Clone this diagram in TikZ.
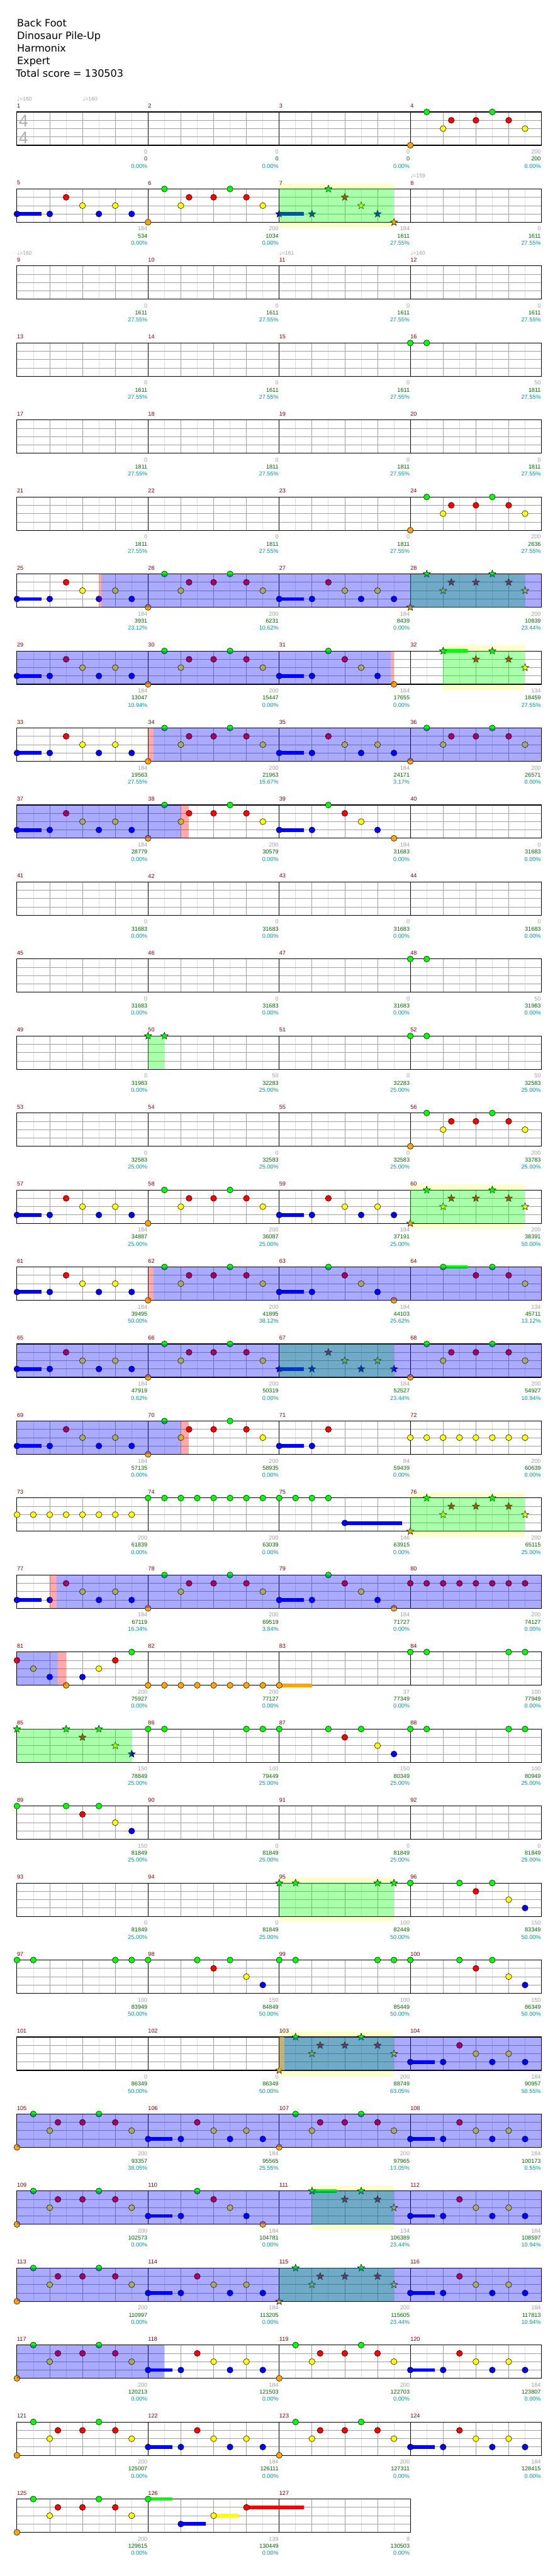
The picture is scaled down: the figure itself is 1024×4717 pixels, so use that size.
\documentclass[tikz,border=0pt]{standalone}
\usepackage{fontspec}
\setmainfont{DejaVu Sans}
\newfontfamily\chartfont{Liberation Sans}
\usepackage{tikz}
\usetikzlibrary{shapes.geometric}
\definecolor{cG}{RGB}{0,255,0}
\definecolor{cR}{RGB}{255,0,0}
\definecolor{cY}{RGB}{255,255,0}
\definecolor{cB}{RGB}{0,0,255}
\definecolor{cO}{RGB}{255,165,0}
\definecolor{gridgrey}{RGB}{160,160,160}
\definecolor{gridlight}{RGB}{222,222,222}
\definecolor{measred}{RGB}{128,0,0}
\definecolor{scoregreen}{RGB}{0,100,0}
\definecolor{pctteal}{RGB}{0,150,150}
\definecolor{glowyellow}{RGB}{255,255,204}
\definecolor{tanbar}{RGB}{200,160,100}
\tikzset{
    notehead/.style={draw=black, line width=0.6pt},
    starnote/.style={star, star points=5, star point ratio=2.3,
        minimum size=14pt, inner sep=0pt, draw=black, line width=0.6pt},
    gridhalf/.style={draw=gridlight, line width=1pt},
    gridbeat/.style={draw=gridgrey, line width=1pt},
    % translucent overlays (star power, overdrive, activation)
    spzone/.style={fill=cG, fill opacity=0.333},
    odzone/.style={fill=cB, fill opacity=0.333},
    pinkzone/.style={fill=cR, fill opacity=0.333},
    measnum/.style={anchor=west, inner sep=0pt, text=measred,
        font=\chartfont\fontsize{10.5}{12}\selectfont},
    bonustxt/.style={anchor=east, inner sep=0pt, text=gridgrey,
        font=\chartfont\fontsize{10.5}{12}\selectfont},
    scoretxt/.style={bonustxt, text=scoregreen},
    pcttxt/.style={bonustxt, text=pctteal},
    tempotxt/.style={anchor=west, inner sep=0pt, text=gridgrey,
        font=\chartfont\fontsize{10}{12}\selectfont},
    titletxt/.style={anchor=base west, inner sep=0pt,
        font=\fontsize{18.5}{22}\selectfont},
    timesig/.style={inner sep=0pt, text=gridgrey!85,
        font=\chartfont\fontsize{31}{32}\selectfont}
}
% one note: 16th position, lane (0 = green ... 4 = orange), colour
\newcommand\nhead[3]{\filldraw[notehead, fill=#3] (15*#1,15.25*#2) circle (5.5);}
\newcommand\shead[3]{\node[starnote, fill=#3] at (15*#1,15.25*#2) {};}
\newcommand\tail[4]{\fill[#4] (15*#1,15.25*#2-3.3) rectangle (15*#1+15*#3,15.25*#2+3.3);}
% recurring bars
\newcommand\riffI[1]{#1{0}{4}{cO}#1{2}{0}{cG}#1{4}{2}{cY}#1{5}{1}{cR}#1{8}{1}{cR}#1{10}{0}{cG}#1{12}{1}{cR}#1{14}{2}{cY}}
\newcommand\riffV[1]{\tail{0}{3}{3}{cB}#1{0}{3}{cB}#1{4}{3}{cB}#1{6}{1}{cR}#1{8}{2}{cY}#1{10}{3}{cB}#1{12}{2}{cY}#1{14}{3}{cB}}
\newcommand\riffD[1]{\tail{0}{3}{3}{cB}#1{0}{3}{cB}#1{4}{3}{cB}#1{6}{0}{cG}#1{8}{1}{cR}#1{10}{2}{cY}#1{12}{3}{cB}#1{14}{4}{cO}}
\newcommand\riffE[1]{\tail{4}{0}{3}{cG}#1{4}{0}{cG}#1{8}{1}{cR}#1{10}{0}{cG}#1{12}{1}{cR}#1{14}{2}{cY}}
\newcommand\riffF[1]{#1{0}{0}{cG}#1{6}{0}{cG}#1{8}{1}{cR}#1{10}{0}{cG}#1{12}{2}{cY}#1{14}{3}{cB}}
\newcommand\riffH[1]{#1{0}{0}{cG}#1{2}{0}{cG}#1{12}{0}{cG}#1{14}{0}{cG}}
\newcommand\riffGG[1]{#1{0}{0}{cG}#1{2}{0}{cG}}
\newcommand\riffrow[2]{\foreach \k in {0,2,...,14}{\nhead{\k}{#1}{#2}}}
% draw inside measure n
\newcommand\atm[2]{%
  \pgfmathtruncatemacro\mrow{(#1-1)/4}%
  \pgfmathtruncatemacro\mcol{#1-1-4*\mrow}%
  \begin{scope}[shift={(31+240*\mcol,205+141*\mrow)}]#2\end{scope}}
\newcommand\staffgrid[2]{%
  \pgfmathtruncatemacro\gridend{240*#2}%
  \begin{scope}[shift={(31,205+141*#1)}]
    \fill[white] (0,0) rectangle (\gridend,61);
    \foreach \x in {30,90,...,\gridend} \draw[gridhalf] (\x,0) -- (\x,61);
    \foreach \l in {1,2,3} \draw[gridbeat] (0,15.25*\l) -- (\gridend,15.25*\l);
    \foreach \x in {60,120,...,\gridend} \draw[gridbeat] (\x,0) -- (\x,61);
    \foreach \x in {240,480,...,\gridend} \draw[black, line width=1pt] (\x,0) -- (\x,61);
    \draw[black, line width=1.3pt] (0,0) rectangle (\gridend,61);
  \end{scope}}
\newcommand\glow[3]{\fill[glowyellow] (#2,195+141*#1) rectangle (#3,276+141*#1);}
\newcommand\zone[4]{\fill[#1] (#3,205+141*#2) rectangle (#4,266+141*#2);}
\newcommand\tempo[3]{\node[tempotxt] (t#1#2) at (#2,181+141*#1) {{\rmfamily\char"2669}=#3};}
\newcommand\scorelbl[4]{%
  \pgfmathtruncatemacro\mrow{(#1-1)/4}%
  \pgfmathtruncatemacro\mcol{#1-4*\mrow}%
  \node[bonustxt] (b#1) at (30+240*\mcol,278+141*\mrow) {#2};
  \node[scoretxt] (s#1) at (30+240*\mcol,291+141*\mrow) {#3};
  \node[pcttxt] (p#1) at (30+240*\mcol,304+141*\mrow) {#4\%};}

\begin{document}
\begin{tikzpicture}[x=1pt, y=-1pt]
\useasboundingbox (0,0) rectangle (1024,4717);
\fill[white] (0,0) rectangle (1024,4717);
% header
\node[titletxt] (song) at (31,49) {Back Foot};
\node[titletxt] (band) at (31,72) {Dinosaur Pile-Up};
\node[titletxt] (chart) at (31,95) {Harmonix};
\node[titletxt] (diff) at (31,118) {Expert};
\node[titletxt] (total) at (29,141) {Total score = 130503};
% halos behind star power phrases
\glow{1}{511}{721}\glow{7}{811}{961}\glow{14}{751}{961}\glow{18}{751}{961}
\glow{23}{511}{721}\glow{25}{511}{721}\glow{27}{571}{721}
% staves
\foreach \rw in {0,...,30} {\staffgrid{\rw}{4}}
\staffgrid{31}{3}
% notes
\atm{4}{\riffI\nhead}
\atm{5}{\riffV\nhead}\atm{6}{\riffI\nhead}\atm{7}{\riffD\shead}
\atm{16}{\riffGG\nhead}
\atm{24}{\riffI\nhead}
\atm{25}{\riffV\nhead}\atm{26}{\riffI\nhead}\atm{27}{\riffV\nhead}\atm{28}{\riffI\shead}
\atm{29}{\riffV\nhead}\atm{30}{\riffI\nhead}\atm{31}{\riffD\nhead}\atm{32}{\riffE\shead}
\atm{33}{\riffV\nhead}\atm{34}{\riffI\nhead}\atm{35}{\riffV\nhead}\atm{36}{\riffI\nhead}
\atm{37}{\riffV\nhead}\atm{38}{\riffI\nhead}\atm{39}{\riffD\nhead}
\atm{48}{\riffGG\nhead}
\atm{50}{\riffGG\shead}\atm{52}{\riffGG\nhead}
\atm{56}{\riffI\nhead}
\atm{57}{\riffV\nhead}\atm{58}{\riffI\nhead}\atm{59}{\riffV\nhead}\atm{60}{\riffI\shead}
\atm{61}{\riffV\nhead}\atm{62}{\riffI\nhead}\atm{63}{\riffD\nhead}\atm{64}{\riffE\nhead}
\atm{65}{\riffV\nhead}\atm{66}{\riffI\nhead}\atm{67}{\riffV\shead}\atm{68}{\riffI\nhead}
\atm{69}{\riffV\nhead}\atm{70}{\riffI\nhead}
\atm{71}{\tail{0}{3}{3}{cB}\nhead{0}{3}{cB}\nhead{4}{3}{cB}\nhead{6}{1}{cR}}
\atm{72}{\riffrow{2}{cY}}
\atm{73}{\riffrow{2}{cY}}\atm{74}{\riffrow{0}{cG}}
\atm{75}{\foreach \k in {0,2,4,6}{\nhead{\k}{0}{cG}}\tail{8}{3}{7}{cB}\nhead{8}{3}{cB}}
\atm{76}{\riffI\shead}
\atm{77}{\riffV\nhead}\atm{78}{\riffI\nhead}\atm{79}{\riffD\nhead}\atm{80}{\riffrow{1}{cR}}
\atm{81}{\nhead{0}{1}{cR}\nhead{2}{2}{cY}\nhead{4}{3}{cB}\nhead{6}{4}{cO}\nhead{8}{3}{cB}\nhead{10}{2}{cY}\nhead{12}{1}{cR}\nhead{14}{0}{cG}}
\atm{82}{\riffrow{4}{cO}}\atm{83}{\tail{0}{4}{4}{cO}\nhead{0}{4}{cO}}\atm{84}{\riffH\nhead}
\atm{85}{\riffF\shead}\atm{86}{\riffH\nhead}\atm{87}{\riffF\nhead}\atm{88}{\riffH\nhead}
\atm{89}{\riffF\nhead}
\atm{95}{\riffH\shead}\atm{96}{\riffF\nhead}
\atm{97}{\riffH\nhead}\atm{98}{\riffF\nhead}\atm{99}{\riffH\nhead}\atm{100}{\riffF\nhead}
\atm{103}{\riffI\shead}\atm{104}{\riffV\nhead}
\atm{105}{\riffI\nhead}\atm{106}{\riffV\nhead}\atm{107}{\riffI\nhead}\atm{108}{\riffV\nhead}
\atm{109}{\riffI\nhead}\atm{110}{\riffD\nhead}\atm{111}{\riffE\shead}\atm{112}{\riffV\nhead}
\atm{113}{\riffI\nhead}\atm{114}{\riffV\nhead}\atm{115}{\riffI\shead}\atm{116}{\riffV\nhead}
\atm{117}{\riffI\nhead}\atm{118}{\riffV\nhead}\atm{119}{\riffI\nhead}\atm{120}{\riffV\nhead}
\atm{121}{\riffI\nhead}\atm{122}{\riffV\nhead}\atm{123}{\riffI\nhead}\atm{124}{\riffV\nhead}
\atm{125}{\riffI\nhead}
\atm{126}{\tail{0}{0}{3}{cG}\nhead{0}{0}{cG}\tail{4}{3}{3}{cB}\nhead{4}{3}{cB}\tail{8}{2}{3}{cY}\nhead{8}{2}{cY}\tail{12}{1}{7}{cR}\nhead{12}{1}{cR}}
% star power phrases
\zone{spzone}{1}{511}{721}\zone{spzone}{6}{751}{961}\zone{spzone}{7}{811}{961}
\zone{spzone}{12}{271}{301}\zone{spzone}{14}{751}{961}\zone{spzone}{16}{511}{721}
\zone{spzone}{18}{751}{961}\zone{spzone}{21}{31}{241}\zone{spzone}{23}{511}{721}
\zone{spzone}{25}{511}{721}\zone{spzone}{27}{571}{721}\zone{spzone}{28}{511}{721}
% overdrive
\zone{odzone}{6}{185}{991}\zone{pinkzone}{6}{181}{185}
\zone{odzone}{7}{31}{715}\zone{pinkzone}{7}{715}{721}
\zone{odzone}{8}{281.5}{991}\zone{pinkzone}{8}{271}{281.5}
\zone{odzone}{9}{31}{331}\zone{pinkzone}{9}{331}{345.5}
\zone{odzone}{15}{281.5}{991}\zone{pinkzone}{15}{271}{281.5}
\zone{odzone}{16}{31}{991}
\zone{odzone}{17}{31}{331}\zone{pinkzone}{17}{331}{345.5}
\zone{odzone}{19}{104}{991}\zone{pinkzone}{19}{91.4}{104}
\zone{odzone}{20}{31}{106}\zone{pinkzone}{20}{106}{121}
\zone{odzone}{25}{520}{991}\zone{tanbar, fill opacity=0.8}{25}{511}{520}
\zone{odzone}{26}{31}{991}\zone{odzone}{27}{31}{991}\zone{odzone}{28}{31}{991}
\zone{odzone}{29}{31}{300}
% time signature and tempo marks
\node[timesig] (sigtop) at (43,221) {4};
\node[timesig] (sigbot) at (43,253) {4};
\tempo{0}{31}{160}\tempo{0}{151}{160}\tempo{1}{751}{159}
\tempo{2}{31}{160}\tempo{2}{511}{161}\tempo{2}{751}{160}
% measure numbers
\foreach \n in {1,...,127}{
  \pgfmathtruncatemacro\mrow{(\n-1)/4}
  \pgfmathtruncatemacro\mcol{\n-1-4*\mrow}
  \node[measnum] (m\n) at (31+240*\mcol,194+141*\mrow) {\n};
}
% scores under each bar
\scorelbl{1}{0}{0}{0.00}\scorelbl{2}{0}{0}{0.00}\scorelbl{3}{0}{0}{0.00}\scorelbl{4}{200}{200}{0.00}
\scorelbl{5}{184}{534}{0.00}\scorelbl{6}{200}{1034}{0.00}\scorelbl{7}{184}{1611}{27.55}\scorelbl{8}{0}{1611}{27.55}
\foreach \n in {9,...,15}{\scorelbl{\n}{0}{1611}{27.55}}
\scorelbl{16}{50}{1811}{27.55}
\foreach \n in {17,...,23}{\scorelbl{\n}{0}{1811}{27.55}}
\scorelbl{24}{200}{2636}{27.55}
\scorelbl{25}{184}{3931}{23.12}\scorelbl{26}{200}{6231}{10.62}\scorelbl{27}{184}{8439}{0.00}\scorelbl{28}{200}{10839}{23.44}
\scorelbl{29}{184}{13047}{10.94}\scorelbl{30}{200}{15447}{0.00}\scorelbl{31}{184}{17655}{0.00}\scorelbl{32}{134}{18459}{27.55}
\scorelbl{33}{184}{19563}{27.55}\scorelbl{34}{200}{21963}{15.67}\scorelbl{35}{184}{24171}{3.17}\scorelbl{36}{200}{26571}{0.00}
\scorelbl{37}{184}{28779}{0.00}\scorelbl{38}{200}{30579}{0.00}\scorelbl{39}{184}{31683}{0.00}
\foreach \n in {40,...,47}{\scorelbl{\n}{0}{31683}{0.00}}
\scorelbl{48}{50}{31983}{0.00}
\scorelbl{49}{0}{31983}{0.00}\scorelbl{50}{50}{32283}{25.00}\scorelbl{51}{0}{32283}{25.00}\scorelbl{52}{50}{32583}{25.00}
\foreach \n in {53,54,55}{\scorelbl{\n}{0}{32583}{25.00}}
\scorelbl{56}{200}{33783}{25.00}
\scorelbl{57}{184}{34887}{25.00}\scorelbl{58}{200}{36087}{25.00}\scorelbl{59}{184}{37191}{25.00}\scorelbl{60}{200}{38391}{50.00}
\scorelbl{61}{184}{39495}{50.00}\scorelbl{62}{200}{41895}{38.12}\scorelbl{63}{184}{44103}{25.62}\scorelbl{64}{134}{45711}{13.12}
\scorelbl{65}{184}{47919}{0.62}\scorelbl{66}{200}{50319}{0.00}\scorelbl{67}{184}{52527}{23.44}\scorelbl{68}{200}{54927}{10.94}
\scorelbl{69}{184}{57135}{0.00}\scorelbl{70}{200}{58935}{0.00}\scorelbl{71}{84}{59439}{0.00}\scorelbl{72}{200}{60639}{0.00}
\scorelbl{73}{200}{61839}{0.00}\scorelbl{74}{200}{63039}{0.00}\scorelbl{75}{146}{63915}{0.00}\scorelbl{76}{200}{65115}{25.00}
\scorelbl{77}{184}{67119}{16.34}\scorelbl{78}{200}{69519}{3.84}\scorelbl{79}{184}{71727}{0.00}\scorelbl{80}{200}{74127}{0.00}
\scorelbl{81}{200}{75927}{0.00}\scorelbl{82}{200}{77127}{0.00}\scorelbl{83}{37}{77349}{0.00}\scorelbl{84}{100}{77949}{0.00}
\scorelbl{85}{150}{78849}{25.00}\scorelbl{86}{100}{79449}{25.00}\scorelbl{87}{150}{80349}{25.00}\scorelbl{88}{100}{80949}{25.00}
\scorelbl{89}{150}{81849}{25.00}
\foreach \n in {90,...,94}{\scorelbl{\n}{0}{81849}{25.00}}
\scorelbl{95}{100}{82449}{50.00}\scorelbl{96}{150}{83349}{50.00}
\scorelbl{97}{100}{83949}{50.00}\scorelbl{98}{150}{84849}{50.00}\scorelbl{99}{100}{85449}{50.00}\scorelbl{100}{150}{86349}{50.00}
\scorelbl{101}{0}{86349}{50.00}\scorelbl{102}{0}{86349}{50.00}\scorelbl{103}{200}{88749}{63.05}\scorelbl{104}{184}{90957}{50.55}
\scorelbl{105}{200}{93357}{38.05}\scorelbl{106}{184}{95565}{25.55}\scorelbl{107}{200}{97965}{13.05}\scorelbl{108}{184}{100173}{0.55}
\scorelbl{109}{200}{102573}{0.00}\scorelbl{110}{184}{104781}{0.00}\scorelbl{111}{134}{106389}{23.44}\scorelbl{112}{184}{108597}{10.94}
\scorelbl{113}{200}{110997}{0.00}\scorelbl{114}{184}{113205}{0.00}\scorelbl{115}{200}{115605}{23.44}\scorelbl{116}{184}{117813}{10.94}
\scorelbl{117}{200}{120213}{0.00}\scorelbl{118}{184}{121503}{0.00}\scorelbl{119}{200}{122703}{0.00}\scorelbl{120}{184}{123807}{0.00}
\scorelbl{121}{200}{125007}{0.00}\scorelbl{122}{184}{126111}{0.00}\scorelbl{123}{200}{127311}{0.00}\scorelbl{124}{184}{128415}{0.00}
\scorelbl{125}{200}{129615}{0.00}\scorelbl{126}{139}{130449}{0.00}\scorelbl{127}{9}{130503}{0.00}
\end{tikzpicture}
\end{document}
